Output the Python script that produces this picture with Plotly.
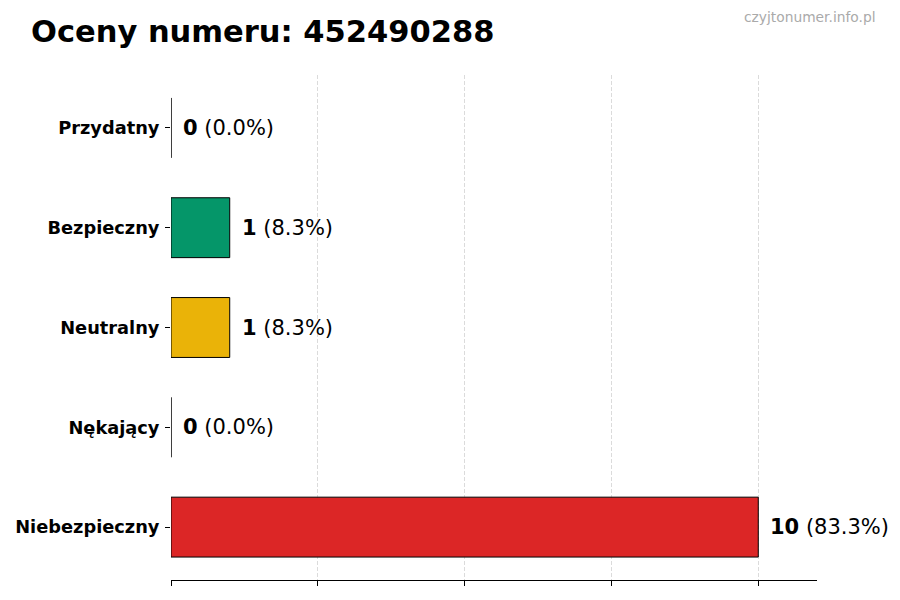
import plotly.graph_objects as go

# ratings data, top to bottom as shown
categories = ["Przydatny", "Bezpieczny", "Neutralny", "Nękający", "Niebezpieczny"]
counts = [0, 1, 1, 0, 10]
colors = ["#9CA3AF", "#059669", "#EAB308", "#6B7280", "#DC2626"]
tick_vals = [0, 2.5, 5, 7.5, 10]

total = sum(counts)
# plotly draws the first category at the bottom, so reverse
cats = categories[::-1]
vals = counts[::-1]
cols = colors[::-1]

# plot area (page has an 8px body margin)
L, T, W, H = 163, 67, 646, 505

fig = go.Figure()
fig.add_trace(go.Bar(
    y=cats, x=vals, orientation="h", width=0.6,
    marker=dict(color=cols, line=dict(color="black", width=1)),
    hoverinfo="skip",
))

for c, v in zip(cats, vals):
    pct = 100.0 * v / total if total else 0
    fig.add_annotation(
        x=v + 0.17, y=c, xref="x", yref="y",
        text=f"<b>{v}</b> ({pct:.1f}%)",
        showarrow=False, xanchor="left", yanchor="middle",
        font=dict(family="DejaVu Sans", size=21, color="black"),
    )

fig.add_annotation(
    text="czyjtonumer.info.pl", xref="paper", yref="paper",
    x=(870 - L) / W, y=1 + (T - 9) / H, xanchor="right", yanchor="middle",
    showarrow=False, font=dict(family="DejaVu Sans", size=13.8, color="#AAAAAA"),
)

fig.update_layout(
    width=900, height=600,
    plot_bgcolor="white", paper_bgcolor="white",
    margin=dict(l=L, r=900 - L - W, t=T, b=600 - T - H),
    showlegend=False,
    title=dict(
        text="<b>Oceny numeru: 452490288</b>",
        x=23 / 900, xref="container", xanchor="left",
        y=1 - 23 / 600, yref="container", yanchor="middle",
        font=dict(family="DejaVu Sans", size=30.5, color="black"),
    ),
    font=dict(family="DejaVu Sans"),
)

fig.update_xaxes(
    range=[0, 11], tickvals=tick_vals, showticklabels=False,
    showgrid=True, gridcolor="rgba(190,190,190,0.55)", griddash="4px,2px", gridwidth=1,
    showline=True, linecolor="black", linewidth=1,
    ticks="outside", ticklen=5, tickcolor="black",
    zeroline=False, layer="above traces", automargin=False,
)
fig.update_yaxes(
    range=[-0.53, 4.53], showgrid=False, showline=False, zeroline=False,
    ticks="outside", ticklen=5, tickcolor="black",
    tickfont=dict(family="DejaVu Sans", size=17.8, color="black"),
    tickprefix="<b>", ticksuffix="</b>", ticklabelstandoff=2,
    automargin=False,
)

fig.write_html("out.html")
